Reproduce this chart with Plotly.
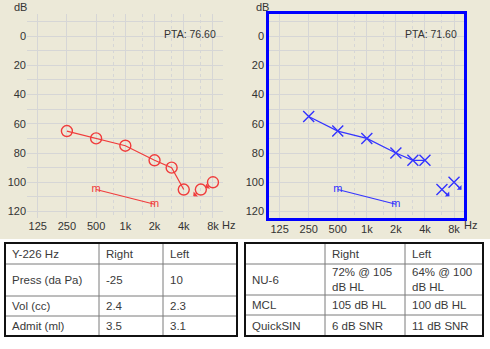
import math
import plotly.graph_objects as go

W, H = 490, 349

# ---------------- data ----------------
freq_ticks = [125, 250, 500, 1000, 2000, 4000, 8000]
freq_ticktext = ["125", "250", "500", "1k", "2k", "4k", "8k"]
half_octaves = [750, 1500, 3000, 6000]
db_ticks = [0, 20, 40, 60, 80, 100, 120]

# Right ear (red circles)
r_ac_freq = [250, 500, 1000, 2000, 3000, 4000]
r_ac_db = [65, 70, 75, 85, 90, 105]
r_nr_freq = [6000, 8000]
r_nr_db = [105, 100]
r_bc_freq = [500, 2000]
r_bc_db = [105, 115]
r_pta = "PTA: 76.60"

# Left ear (blue crosses)
l_ac_freq = [250, 500, 1000, 2000, 3000, 4000]
l_ac_db = [55, 65, 70, 80, 85, 85]
l_nr_freq = [6000, 8000]
l_nr_db = [105, 100]
l_bc_freq = [500, 2000]
l_bc_db = [105, 115]
l_pta = "PTA: 71.60"

tymp_header = ["Y-226 Hz", "Right", "Left"]
tymp_rows = [
    ["Press (da Pa)", "-25", "10"],
    ["Vol (cc)", "2.4", "2.3"],
    ["Admit (ml)", "3.5", "3.1"],
]
speech_header = ["", "Right", "Left"]
speech_rows = [
    ["NU-6", "72% @ 105<br>dB HL", "64% @ 100<br>dB HL"],
    ["MCL", "105 dB HL", "100 dB HL"],
    ["QuickSIN", "6 dB SNR", "11 dB SNR"],
]

# ---------------- layout helpers ----------------
def px(x):
    return x / W

def py(y):
    return 1 - y / H

FONT = "Liberation Sans, Arial, sans-serif"
TXT = "#333333"
GRID = "#d6d6d6"
RED = "#f03c3c"
BLUE = "#3434ff"
BEIGE = "#ece9d8"

fig = go.Figure()

# ---------------- audiograms ----------------
def add_ear(xa, ya, ac_f, ac_db, nr_f, nr_db, bc_f, bc_db, color, symbol):
    fig.add_trace(go.Scatter(
        x=ac_f, y=ac_db, mode="lines+markers", xaxis=xa, yaxis=ya,
        line=dict(color=color, width=1.2),
        marker=dict(symbol=symbol, size=11, color=color, line=dict(color=color, width=1.4)),
        showlegend=False, hoverinfo="skip"))
    fig.add_trace(go.Scatter(
        x=nr_f, y=nr_db, mode="markers", xaxis=xa, yaxis=ya,
        marker=dict(symbol=symbol, size=11, color=color, line=dict(color=color, width=1.4)),
        showlegend=False, hoverinfo="skip"))
    fig.add_trace(go.Scatter(
        x=bc_f, y=bc_db, mode="lines+text", xaxis=xa, yaxis=ya,
        text=["m"] * len(bc_f), textposition="middle center",
        textfont=dict(family=FONT, size=11, color=color),
        line=dict(color=color, width=1.1),
        showlegend=False, hoverinfo="skip"))

add_ear("x", "y", r_ac_freq, r_ac_db, r_nr_freq, r_nr_db, r_bc_freq, r_bc_db, RED, "circle-open")
add_ear("x2", "y2", l_ac_freq, l_ac_db, l_nr_freq, l_nr_db, l_bc_freq, l_bc_db, BLUE, "x-thin-open")

xr = [math.log10(97), math.log10(10150)]
yr = [124.1, -15.4]
ydom = [py(217.5), py(13.5)]

def xaxis_cfg(dom, anchor, border=None):
    d = dict(
        domain=dom, anchor=anchor, type="log", range=xr, tickmode="array", tickvals=freq_ticks,
        ticktext=freq_ticktext, showgrid=True, gridcolor=GRID, gridwidth=1,
        minor=dict(tickmode="array", tickvals=half_octaves, showgrid=True,
                   gridcolor=GRID, griddash="dot", gridwidth=1, ticks=""),
        ticks="", zeroline=False, tickfont=dict(family=FONT, size=11, color=TXT),
        fixedrange=True)
    if border:
        d.update(showline=True, linecolor=border, linewidth=2.5, mirror=True)
    else:
        d.update(showline=False)
    return d

def yaxis_cfg(anchor, border=None):
    d = dict(
        domain=ydom, range=yr, tickmode="array", tickvals=db_ticks, anchor=anchor,
        showgrid=True, gridcolor=GRID, gridwidth=1,
        minor=dict(dtick=10, tick0=0, showgrid=True, gridcolor=GRID, gridwidth=1, ticks=""),
        ticks="", zeroline=False, tickfont=dict(family=FONT, size=11, color=TXT),
        fixedrange=True)
    if border:
        d.update(showline=True, linecolor=border, linewidth=2.5, mirror=True)
    else:
        d.update(showline=False)
    return d

shapes = []
annotations = []

# beige background behind charts
shapes.append(dict(type="rect", xref="paper", yref="paper", x0=0, x1=1, y0=py(239), y1=1,
                   fillcolor=BEIGE, line=dict(width=0), layer="below"))

# sunken white box in left-ear chart (axis coords; log axis uses log10)
bx0, bx1 = math.log10(144), xr[1]
shapes.append(dict(type="rect", xref="x2", yref="y2", x0=bx0, x1=bx1, y0=109.4, y1=117.6,
                   fillcolor="white", line=dict(width=0), layer="between"))
shapes.append(dict(type="line", xref="x2", yref="y2", x0=bx0, x1=bx0, y0=109.4, y1=117.6,
                   line=dict(color="#c8c8c8", width=1), layer="between"))
shapes.append(dict(type="line", xref="x2", yref="y2", x0=bx0, x1=bx1, y0=109.4, y1=109.4,
                   line=dict(color="#c8c8c8", width=1), layer="between"))

# labels dB / Hz / PTA
for xl, xh, xp, pta in [(20, 228, 218, r_pta), (262, 470, 459, l_pta)]:
    annotations.append(dict(xref="paper", yref="paper", x=px(xl), y=py(7), text="dB",
                            showarrow=False, xanchor="center", yanchor="middle",
                            font=dict(family=FONT, size=11, color=TXT)))
    annotations.append(dict(xref="paper", yref="paper", x=px(xh), y=py(225), text="Hz",
                            showarrow=False, xanchor="center", yanchor="middle",
                            font=dict(family=FONT, size=11, color=TXT)))
    annotations.append(dict(xref="paper", yref="paper", x=px(xp), y=py(34), text=pta,
                            showarrow=False, xanchor="right", yanchor="middle",
                            font=dict(family=FONT, size=10.5, color=TXT)))

# no-response arrows
def nr_arrows(xa, ya, fr, db, dx, dys, color):
    for f, d, dy in zip(fr, db, dys):
        annotations.append(dict(xref=xa, yref=ya, x=math.log10(f), y=d, text="",
                                showarrow=True, ax=dx, ay=dy, arrowside="start",
                                arrowhead=2, arrowsize=0.9, arrowwidth=1.1,
                                arrowcolor=color, standoff=5, startstandoff=0))

nr_arrows("x", "y", r_nr_freq, r_nr_db, -9, [8, 7], RED)
nr_arrows("x2", "y2", l_nr_freq, l_nr_db, 9, [8, 9], BLUE)

# ---------------- tables ----------------
def draw_table(cols, rows_y, header, rows):
    x0, x1 = cols[0], cols[-1]
    y0, y1 = rows_y[0], rows_y[-1]
    for c in cols[1:-1]:
        shapes.append(dict(type="line", xref="paper", yref="paper", x0=px(c), x1=px(c),
                           y0=py(y0), y1=py(y1), line=dict(color="#7a7a7a", width=1)))
    for r in rows_y[1:-1]:
        shapes.append(dict(type="line", xref="paper", yref="paper", x0=px(x0), x1=px(x1),
                           y0=py(r), y1=py(r), line=dict(color="#7a7a7a", width=1)))
    shapes.append(dict(type="rect", xref="paper", yref="paper", x0=px(x0), x1=px(x1),
                       y0=py(y0), y1=py(y1), line=dict(color="#111111", width=2)))
    all_rows = [header] + rows
    for ri, row in enumerate(all_rows):
        yc = (rows_y[ri] + rows_y[ri + 1]) / 2
        for ci, txt in enumerate(row):
            if not txt:
                continue
            annotations.append(dict(xref="paper", yref="paper", x=px(cols[ci] + 5), y=py(yc),
                                    text=txt, showarrow=False, xanchor="left", yanchor="middle",
                                    align="left",
                                    font=dict(family=FONT, size=11.5, color="#3a3a3a")))

draw_table([5, 99, 163, 237], [243, 264, 296, 316, 336], tymp_header, tymp_rows)
draw_table([245, 325, 405, 483], [243, 264, 295, 315, 336], speech_header, speech_rows)

fig.update_layout(
    width=W, height=H, margin=dict(l=0, r=0, t=0, b=0),
    paper_bgcolor="white", plot_bgcolor="white",
    xaxis=xaxis_cfg([px(27), px(223)], "y"),
    yaxis=yaxis_cfg("x"),
    xaxis2=xaxis_cfg([px(269), px(464)], "y2", border="#0000ff"),
    yaxis2=yaxis_cfg("x2", border="#0000ff"),
    shapes=shapes, annotations=annotations, showlegend=False,
)

fig.write_html("out.html")
